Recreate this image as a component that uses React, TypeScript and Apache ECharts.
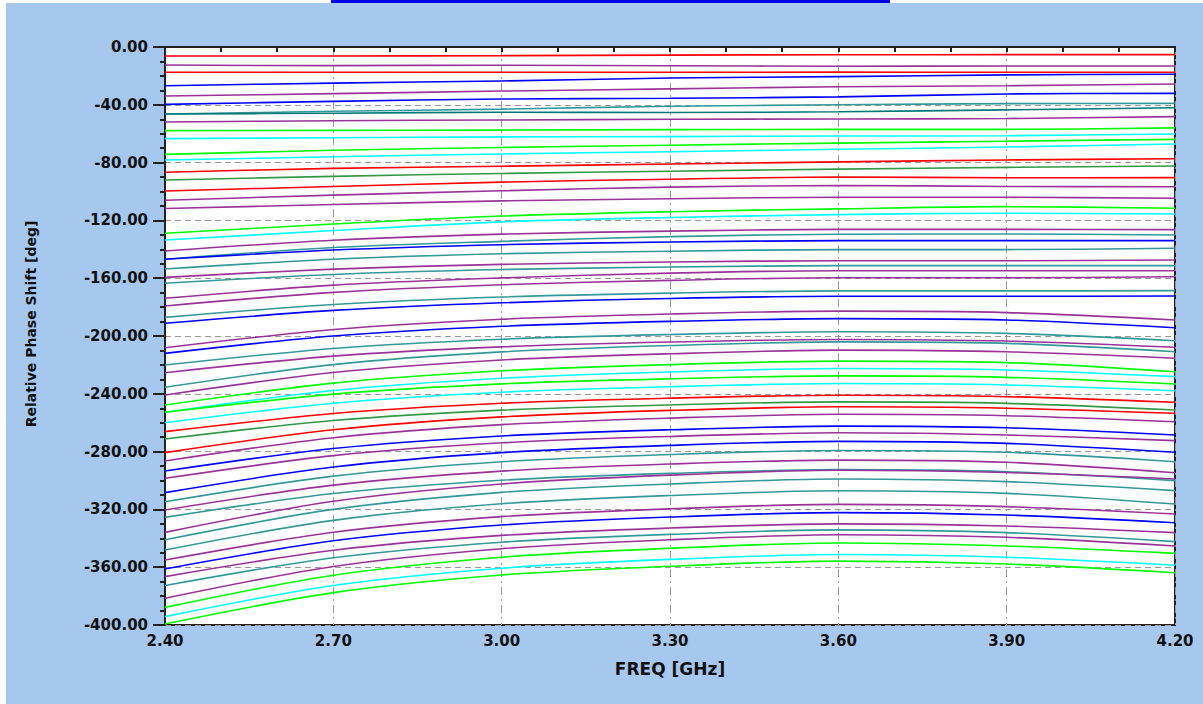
import React, { useEffect, useRef } from 'react';
import * as echarts from 'echarts';

// Frequency sample points [GHz]
const freqs = [2.4, 2.7, 3.0, 3.3, 3.6, 3.9, 4.2];

const RED = '#ff0000';
const PUR = '#993399';
const BLU = '#0000ff';
const TEA = '#339999';
const DTE = '#007878';
const GRN = '#00ff00';
const CYA = '#00ffff';
const DGR = '#339944';

// colour of every phase-state curve (top to bottom)
const curveColors = [
  RED, PUR, RED, BLU, PUR, BLU, TEA, DTE, PUR, GRN, CYA, GRN, CYA, RED, DGR, RED, PUR, PUR,
  GRN, CYA, PUR, TEA, BLU, TEA, PUR, TEA, PUR, PUR, TEA, BLU, PUR, BLU, TEA, PUR, TEA, PUR,
  GRN, CYA, GRN, CYA, RED, DGR, RED, PUR, BLU, PUR, BLU, TEA, PUR, TEA, PUR, TEA, TEA, PUR,
  BLU, PUR, TEA, PUR, GRN, CYA, GRN,
];

// relative phase shift [deg] of every state at the frequencies above
const phaseCurves = [
  [-6.2, -6.2, -6.0, -5.6, -5.4, -5.3, -5.3],
  [-12.5, -12.9, -12.6, -13.0, -13.3, -13.2, -13.1],
  [-17.5, -17.5, -17.5, -17.5, -17.4, -17.5, -17.5],
  [-26.8, -25.0, -23.5, -21.5, -20.5, -19.3, -18.9],
  [-33.9, -32.3, -30.5, -29.0, -27.5, -26.8, -25.6],
  [-39.7, -37.6, -36.0, -35.5, -34.5, -32.5, -32.1],
  [-46.4, -44.5, -43.0, -41.0, -40.0, -39.2, -39.0],
  [-46.4, -45.8, -45.2, -45.3, -44.8, -43.5, -42.0],
  [-51.9, -51.0, -50.5, -50.0, -49.8, -49.5, -48.2],
  [-57.9, -57.7, -57.5, -57.2, -57.0, -57.0, -56.0],
  [-63.4, -62.8, -62.2, -62.0, -61.6, -61.4, -60.2],
  [-74.3, -71.5, -69.5, -68.0, -66.5, -65.2, -63.9],
  [-78.2, -76.0, -74.0, -72.5, -70.8, -69.2, -67.1],
  [-86.7, -84.0, -82.5, -81.0, -79.5, -78.2, -77.3],
  [-92.0, -89.5, -87.5, -86.0, -84.5, -83.3, -82.4],
  [-99.7, -96.5, -93.5, -91.5, -90.0, -90.5, -90.4],
  [-106.1, -102.5, -99.5, -97.0, -95.8, -96.5, -96.7],
  [-111.8, -109.0, -106.5, -105.0, -104.0, -104.0, -104.7],
  [-128.9, -122.5, -117.0, -114.0, -112.0, -110.5, -111.6],
  [-133.6, -127.0, -121.0, -118.0, -116.0, -115.0, -115.6],
  [-141.2, -133.7, -129.5, -127.4, -126.2, -126.2, -126.4],
  [-146.9, -138.8, -134.5, -131.2, -129.6, -129.4, -130.1],
  [-146.9, -140.5, -136.8, -135.0, -134.0, -134.0, -134.0],
  [-153.6, -146.9, -143.1, -141.3, -140.2, -140.2, -139.3],
  [-159.4, -153.7, -150.4, -148.8, -147.9, -147.9, -147.4],
  [-163.5, -157.4, -154.0, -152.3, -151.3, -151.3, -151.3],
  [-173.9, -164.8, -159.8, -156.5, -154.8, -154.8, -154.8],
  [-179.2, -169.8, -164.5, -161.5, -159.7, -159.7, -159.0],
  [-187.1, -178.2, -173.0, -170.3, -168.8, -168.8, -168.6],
  [-191.2, -182.3, -177.0, -174.0, -172.5, -172.5, -172.3],
  [-208.1, -195.5, -188.4, -184.8, -182.8, -183.8, -188.9],
  [-212.0, -200.0, -193.3, -189.9, -188.0, -188.9, -194.3],
  [-220.1, -208.6, -202.2, -199.0, -197.1, -198.2, -203.3],
  [-225.4, -213.9, -207.5, -204.2, -202.4, -203.5, -207.8],
  [-235.5, -219.8, -211.0, -206.6, -204.1, -205.1, -210.9],
  [-240.8, -225.3, -216.6, -212.3, -209.8, -210.9, -215.4],
  [-247.8, -232.6, -224.1, -219.8, -217.4, -218.4, -224.7],
  [-252.8, -237.7, -229.2, -224.9, -222.5, -223.5, -228.1],
  [-252.8, -240.2, -233.1, -229.6, -227.6, -228.6, -233.2],
  [-260.0, -246.5, -238.9, -235.1, -232.9, -233.9, -237.9],
  [-266.2, -253.6, -246.5, -243.0, -241.0, -242.0, -245.9],
  [-271.3, -258.5, -251.3, -247.7, -245.6, -246.6, -251.2],
  [-280.7, -264.9, -256.0, -251.5, -249.0, -250.0, -253.5],
  [-286.5, -270.4, -261.3, -256.8, -254.2, -255.2, -259.3],
  [-293.4, -277.9, -269.2, -264.9, -262.4, -263.5, -268.5],
  [-298.5, -282.8, -273.9, -269.5, -267.0, -268.5, -272.4],
  [-308.4, -290.7, -280.7, -275.7, -272.9, -274.3, -280.5],
  [-314.7, -297.0, -287.0, -282.0, -279.2, -280.5, -287.0],
  [-320.4, -303.2, -293.5, -288.6, -285.9, -287.4, -294.6],
  [-325.5, -309.0, -299.8, -295.1, -292.5, -293.9, -300.1],
  [-335.9, -314.4, -302.4, -296.3, -292.9, -294.5, -299.0],
  [-341.0, -320.0, -308.2, -302.4, -299.0, -300.8, -307.0],
  [-348.1, -327.6, -316.1, -310.4, -307.1, -308.9, -316.3],
  [-355.0, -335.8, -325.0, -319.6, -316.5, -318.1, -323.2],
  [-361.2, -341.7, -330.8, -325.3, -322.2, -323.9, -329.2],
  [-366.5, -348.3, -338.0, -332.9, -330.0, -331.5, -336.1],
  [-372.7, -353.5, -342.7, -337.3, -334.2, -336.1, -342.3],
  [-381.5, -359.5, -347.2, -341.0, -337.5, -339.3, -345.3],
  [-387.8, -365.6, -353.1, -346.9, -343.3, -345.3, -350.4],
  [-394.2, -372.7, -360.7, -354.6, -351.2, -353.1, -358.7],
  [-399.3, -377.6, -365.4, -359.3, -355.8, -357.8, -363.8],
];

const FONT = 'DejaVu Sans';

export default function App() {
  const ref = useRef<HTMLDivElement>(null);
  useEffect(() => {
    document.body.style.margin = '0';
    const chart = echarts.init(ref.current!, null, { renderer: 'svg' });
    const series = phaseCurves.map((vals, i) => ({
      type: 'line',
      name: 'state ' + i,
      data: vals.map((v, j) => [freqs[j], v]),
      showSymbol: false,
      smooth: 0.3,
      lineStyle: { color: curveColors[i], width: 1.6 },
      itemStyle: { color: curveColors[i] },
      z: 3,
    }));
    chart.setOption({
      animation: false,
      backgroundColor: '#a6c8ee',
      graphic: [
        { type: 'rect', shape: { x: 0, y: 0, width: 6, height: 704 }, style: { fill: '#ffffff' }, silent: true },
        { type: 'rect', shape: { x: 0, y: 0, width: 1203, height: 3 }, style: { fill: '#ffffff' }, silent: true },
        { type: 'rect', shape: { x: 331, y: 0, width: 559, height: 3 }, style: { fill: '#0000ee' }, silent: true },
      ],
      grid: {
        left: 165,
        top: 47,
        width: 1010,
        height: 578,
        show: true,
        backgroundColor: '#ffffff',
        borderColor: '#222222',
        borderWidth: 2,
      },
      xAxis: {
        type: 'value',
        min: 2.4,
        max: 4.2,
        interval: 0.3,
        name: 'FREQ [GHz]',
        nameLocation: 'middle',
        nameGap: 35,
        nameTextStyle: { fontFamily: FONT, fontWeight: 'bold', fontSize: 17, color: '#111' },
        axisLine: { show: true, lineStyle: { color: '#222', width: 2 } },
        axisTick: { show: true, length: 5, lineStyle: { color: '#222', width: 2 } },
        minorTick: { show: true, splitNumber: 3, length: 5, lineStyle: { color: '#222', width: 2 } },
        axisLabel: {
          formatter: (v: number) => v.toFixed(2),
          fontFamily: FONT,
          fontWeight: 'bold',
          fontSize: 15,
          color: '#111',
          margin: 8,
        },
        splitLine: { show: true, lineStyle: { color: '#999', width: 1, type: [8, 4, 2, 4] } },
      },
      yAxis: {
        type: 'value',
        min: -400,
        max: 0,
        interval: 40,
        name: 'Relative Phase Shift [deg]',
        nameLocation: 'middle',
        nameRotate: 90,
        nameGap: 127,
        nameTextStyle: {
          fontFamily: FONT,
          fontWeight: 'bold',
          fontSize: 14,
          color: '#111',
          padding: [0, 0, 0, 24],
        },
        axisLine: { show: true, lineStyle: { color: '#222', width: 2 } },
        axisTick: { show: true, length: 12, lineStyle: { color: '#222', width: 2 } },
        minorTick: { show: true, splitNumber: 4, length: 5, lineStyle: { color: '#222', width: 2 } },
        axisLabel: {
          formatter: (v: number) => v.toFixed(2),
          fontFamily: FONT,
          fontWeight: 'bold',
          fontSize: 15,
          color: '#111',
          margin: 17,
        },
        splitLine: { show: true, lineStyle: { color: '#999', width: 1, type: [6, 4] } },
      },
      series,
    });
    return () => chart.dispose();
  }, []);
  return <div ref={ref} style={{ width: 1203, height: 704 }} />;
}
